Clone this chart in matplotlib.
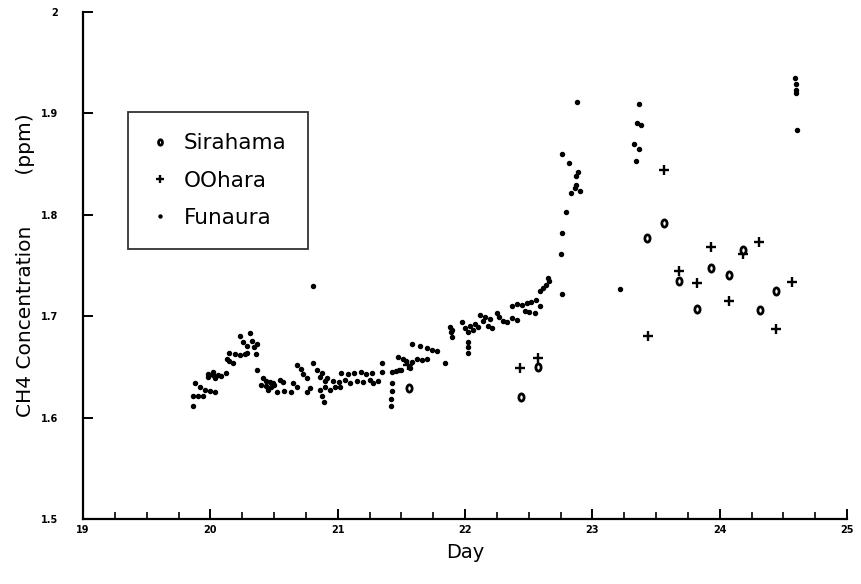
import numpy as np
import matplotlib
matplotlib.use("Agg")
import matplotlib.pyplot as plt
from matplotlib.ticker import MultipleLocator
from matplotlib.path import Path
from matplotlib.transforms import Affine2D

# Sirahama (o)
sira_day = [21.56, 22.44, 22.57, 23.43, 23.56, 23.68, 23.82, 23.93, 24.07, 24.18, 24.32, 24.44]
sira_ppm = [1.629, 1.620, 1.650, 1.777, 1.792, 1.735, 1.707, 1.748, 1.741, 1.765, 1.706, 1.725]

# OOhara (+)
oohara_day = [21.55, 22.43, 22.57, 23.44, 23.56, 23.68, 23.82, 23.93, 24.07, 24.18, 24.31, 24.44, 24.57]
oohara_ppm = [1.652, 1.649, 1.659, 1.680, 1.844, 1.745, 1.733, 1.768, 1.715, 1.761, 1.773, 1.687, 1.734]

# Funaura (.)
funa_day = [
    19.86, 19.86, 19.88, 19.90, 19.92, 19.94, 19.96, 19.98, 20.00, 20.02, 20.04,
    19.98, 20.02, 20.06, 20.04, 20.08, 20.12, 20.13, 20.15, 20.18,
    20.15, 20.19, 20.23, 20.27, 20.29, 20.23, 20.26, 20.29, 20.31, 20.33, 20.34,
    20.37, 20.36, 20.37,
    20.41, 20.44, 20.47, 20.49, 20.40, 20.44, 20.48, 20.50,
    20.45, 20.52, 20.58, 20.63, 20.55, 20.57,
    20.68, 20.71, 20.73, 20.76, 20.65, 20.68, 20.81, 20.84, 20.76, 20.78,
    20.81, 20.86, 20.88, 20.89, 20.88, 20.90, 20.86, 20.90, 20.94,
    20.92, 20.96, 21.01, 21.06, 21.10, 21.15, 21.20, 21.25, 21.28, 21.32,
    21.03, 21.08, 21.13, 21.18, 21.22, 21.27, 20.98, 21.02,
    21.35, 21.35, 21.43, 21.46, 21.48, 21.50,
    21.43, 21.43, 21.42, 21.42,
    21.47, 21.51, 21.54, 21.58, 21.58, 21.62, 21.66, 21.70,
    21.65, 21.70, 21.74, 21.78, 21.57,
    21.84, 21.88, 21.89, 21.90, 21.90,
    21.98, 22.00, 22.02, 22.04, 22.06, 22.08, 22.10, 22.02, 22.02, 22.02,
    22.12, 22.14, 22.16, 22.18, 22.20, 22.21,
    22.25, 22.27, 22.30, 22.33, 22.37, 22.41,
    22.37, 22.41, 22.45, 22.49, 22.52, 22.56, 22.59, 22.47, 22.50, 22.55,
    22.59, 22.61, 22.64, 22.66, 22.65,
    22.75, 22.76, 22.76, 22.79,
    22.76, 22.82, 22.89, 22.87, 22.87, 22.86, 22.83, 22.90, 22.88,
    23.22, 23.37, 23.35, 23.38, 23.33, 23.37, 23.34,
    24.59, 24.60, 24.60, 24.60, 24.61,
]
funa_ppm = [
    1.611, 1.621, 1.634, 1.621, 1.630, 1.621, 1.627, 1.643, 1.626, 1.642, 1.625,
    1.640, 1.645, 1.642, 1.639, 1.641, 1.644, 1.658, 1.656, 1.654,
    1.664, 1.663, 1.662, 1.663, 1.664, 1.680, 1.675, 1.671, 1.683, 1.676, 1.670,
    1.673, 1.663, 1.647,
    1.639, 1.636, 1.635, 1.634, 1.632, 1.631, 1.630, 1.632,
    1.627, 1.625, 1.626, 1.625, 1.637, 1.635,
    1.652, 1.648, 1.643, 1.639, 1.634, 1.630, 1.654, 1.647, 1.625, 1.629,
    1.730, 1.627, 1.621, 1.615, 1.644, 1.636, 1.640, 1.630, 1.627,
    1.639, 1.636, 1.635, 1.637, 1.634, 1.636, 1.635, 1.637, 1.634, 1.636,
    1.644, 1.643, 1.644, 1.645, 1.643, 1.644, 1.630, 1.630,
    1.654, 1.645, 1.645, 1.646, 1.647, 1.647,
    1.634, 1.626, 1.618, 1.611,
    1.660, 1.658, 1.656, 1.655, 1.673, 1.658, 1.657, 1.658,
    1.671, 1.669, 1.667, 1.666, 1.649,
    1.654, 1.689, 1.684, 1.679, 1.686,
    1.694, 1.688, 1.684, 1.690, 1.686, 1.692, 1.689, 1.675, 1.664, 1.670,
    1.701, 1.695, 1.699, 1.690, 1.697, 1.688,
    1.703, 1.699, 1.695, 1.694, 1.698, 1.696,
    1.710, 1.712, 1.711, 1.713, 1.714, 1.716, 1.710, 1.705, 1.704, 1.703,
    1.725, 1.728, 1.731, 1.735, 1.738,
    1.761, 1.782, 1.722, 1.803,
    1.860, 1.851, 1.842, 1.838, 1.829, 1.826, 1.821, 1.823, 1.911,
    1.727, 1.909, 1.891, 1.889, 1.870, 1.865, 1.853,
    1.935, 1.929, 1.923, 1.920, 1.884,
]

y_ticks = [1.5, 1.6, 1.7, 1.8, 1.9, 2.0]
y_ticklabels = ["1.5", "1.6", "1.7", "1.8", "1.9", "2"]
x_ticks = [19, 20, 21, 22, 23, 24, 25]

# narrow "0"-like marker for Sirahama
oval = Affine2D().scale(0.72, 1.0).transform_path(Path.unit_circle())

fig = plt.figure(figsize=(8.62, 5.84), dpi=100)
ax = fig.add_axes([0.0963, 0.1113, 0.8863, 0.8682])

ax.plot(funa_day, funa_ppm, linestyle="none", marker="o", ms=2.9,
        color="black", label="Funaura")
ax.plot(oohara_day, oohara_ppm, linestyle="none", marker="+", ms=7, mew=1.7,
        color="black", label="OOhara")
ax.plot(sira_day, sira_ppm, linestyle="none", marker=oval, ms=5.2, mew=2.0,
        mfc="white", mec="black", label="Sirahama")

ax.set_xlim(19, 25)
ax.set_ylim(1.5, 2.0)
ax.set_xticks(x_ticks)
ax.set_xticklabels([str(v) for v in x_ticks])
ax.xaxis.set_minor_locator(MultipleLocator(0.25))
ax.set_yticks(y_ticks)
ax.set_yticklabels(y_ticklabels)

for side in ["top", "right"]:
    ax.spines[side].set_visible(False)
for side in ["left", "bottom"]:
    ax.spines[side].set_linewidth(1.6)

ax.tick_params(axis="both", which="major", direction="in", length=7, width=1.4,
               labelsize=7)
ax.tick_params(axis="x", which="minor", direction="in", length=5, width=1.2)
ax.tick_params(axis="x", which="major", pad=4)
ax.tick_params(axis="y", which="major", pad=18)
for lab in ax.get_xticklabels() + ax.get_yticklabels():
    lab.set_fontweight("bold")

ax.set_xlabel("Day", fontsize=14, labelpad=6)
ax.set_ylabel("CH4 Concentration        (ppm)", fontsize=14.5, labelpad=4)

h, l = ax.get_legend_handles_labels()
order = [2, 1, 0]
leg = ax.legend([h[i] for i in order], [l[i] for i in order],
                loc="upper left", bbox_to_anchor=(0.059, 0.803),
                fontsize=15.5, frameon=True, fancybox=False, edgecolor="black",
                borderpad=1.0, labelspacing=0.8, handletextpad=0.6,
                handlelength=1.0, markerscale=0.75, borderaxespad=0.0)
leg.get_frame().set_linewidth(1.3)

fig.savefig("out.png", dpi=100)
